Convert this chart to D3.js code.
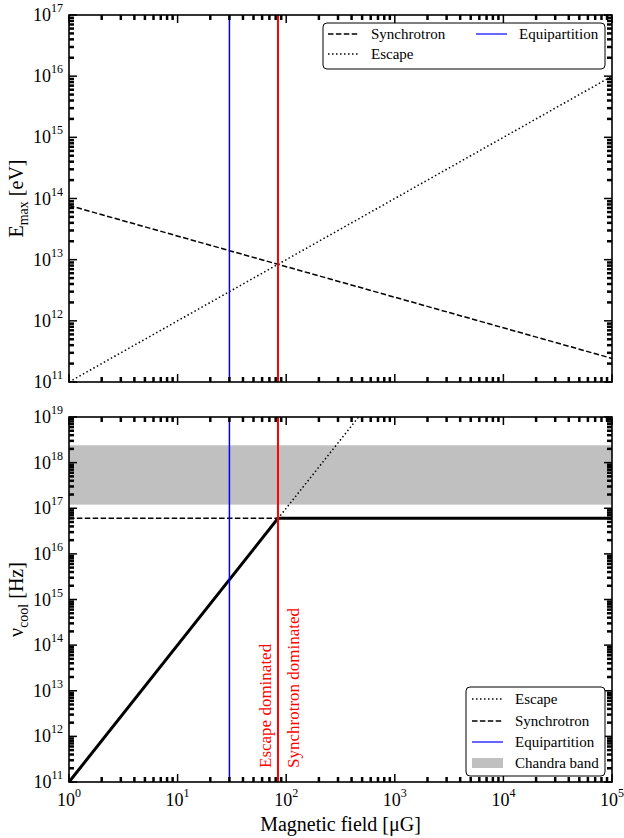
<!DOCTYPE html>
<html>
<head>
<meta charset="utf-8">
<script src="https://cdn.jsdelivr.net/npm/d3@7"></script>
<style>
  body { margin: 0; background: #fff; }
  svg text { font-family: "Liberation Serif", "Times New Roman", serif; }
</style>
</head>
<body>
<div id="chart"></div>
<script>
// ---- data ----
const xMajor = [1, 10, 100, 1e3, 1e4, 1e5];
const topYMajor = [1e11, 1e12, 1e13, 1e14, 1e15, 1e16, 1e17];
const botYMajor = [1e11, 1e12, 1e13, 1e14, 1e15, 1e16, 1e17, 1e18, 1e19];

const bEquip = 30;      // blue line, uG
const bCross = 84;      // red line, uG

// top panel: E_max [eV]
const topSyncB = [1, 1e5], topSyncE = [7.7e13, 2.43e11];
const topEscB = [1, 1e5], topEscE = [1e11, 1e16];

// bottom panel: nu_cool [Hz]
const botSyncB = [1, 1e5], botSyncNu = [6.0e16, 6.0e16];
const botEscB = [1, 464], botEscNu = [1e11, 1e19];
const totalB = [1, 84, 1e5], totalNu = [1e11, 6.0e16, 6.0e16];
const chandraBand = [1.2e17, 2.4e18];

const width = 624, height = 838;
const left = 69, right = 612;
const topPanel = {y0: 15, y1: 382}, botPanel = {y0: 417, y1: 782};

const svg = d3.select("#chart")
  .append("svg")
  .attr("width", width)
  .attr("height", height);

const x = d3.scaleLog([1, 1e5], [left, right]);
const yTop = d3.scaleLog([1e11, 1e17], [topPanel.y1, topPanel.y0]);
const yBot = d3.scaleLog([1e11, 1e19], [botPanel.y1, botPanel.y0]);

const isMajor = d => Math.abs(Math.log10(d) - Math.round(Math.log10(d))) < 1e-6;

const dashed = "5.5,2.4", dotted = "1.5,2.5";
const blue = "#0000ff", red = "#ff0000";

function pts(bs, vs) { return bs.map((b, i) => [b, vs[i]]); }

function addLine(g, y, data, opts) {
  const line = d3.line().x(d => x(d[0])).y(d => y(d[1]));
  g.append("path")
    .datum(data)
    .attr("d", line)
    .attr("fill", "none")
    .attr("stroke", opts.color || "#000")
    .attr("stroke-width", opts.width || 1.5)
    .attr("stroke-dasharray", opts.dash || null);
}

function addVLines(g, p) {
  g.append("line")
    .attr("x1", x(bEquip)).attr("x2", x(bEquip))
    .attr("y1", p.y0).attr("y2", p.y1)
    .attr("stroke", blue).attr("stroke-width", 1.5);
  g.append("line")
    .attr("x1", x(bCross)).attr("x2", x(bCross))
    .attr("y1", p.y0).attr("y2", p.y1)
    .attr("stroke", red).attr("stroke-width", 2);
}

// inward ticks on all four sides, placed with the scales
function drawFrame(y, p) {
  const g = svg.append("g").attr("class", "frame");
  const xMinor = x.ticks().filter(d => !isMajor(d));
  const yMinor = y.ticks().filter(d => !isMajor(d));
  const yMajor = y.ticks().filter(isMajor);

  const xt = [];
  xMinor.forEach(d => xt.push({v: d, len: 5, w: 2.5}));
  xMajor.forEach(d => xt.push({v: d, len: 8, w: 1.5}));
  const yt = [];
  yMinor.forEach(d => yt.push({v: d, len: 5, w: 2.5}));
  yMajor.forEach(d => yt.push({v: d, len: 8, w: 1.5}));

  // bottom and top edges
  [[p.y1, -1], [p.y0, 1]].forEach(([yy, dir]) => {
    g.append("g").selectAll("line")
      .data(xt)
      .join("line")
      .attr("x1", d => x(d.v)).attr("x2", d => x(d.v))
      .attr("y1", yy).attr("y2", d => yy + dir * d.len)
      .attr("stroke", "#000")
      .attr("stroke-width", d => d.w);
  });
  // left and right edges
  [[left, 1], [right, -1]].forEach(([xx, dir]) => {
    g.append("g").selectAll("line")
      .data(yt)
      .join("line")
      .attr("y1", d => y(d.v)).attr("y2", d => y(d.v))
      .attr("x1", xx).attr("x2", d => xx + dir * d.len)
      .attr("stroke", "#000")
      .attr("stroke-width", d => d.w);
  });

  g.append("rect")
    .attr("x", left).attr("y", p.y0)
    .attr("width", right - left).attr("height", p.y1 - p.y0)
    .attr("fill", "none")
    .attr("stroke", "#000")
    .attr("stroke-width", 1.6);
}

function yLabels(y, yMajor) {
  const lab = svg.append("g")
    .selectAll("text")
    .data(yMajor)
    .join("text")
    .attr("x", left - 6)
    .attr("y", d => y(d) + 6)
    .attr("text-anchor", "end")
    .attr("font-size", 18)
    .attr("fill", "#000");
  lab.append("tspan").text("10");
  lab.append("tspan").attr("font-size", 12).attr("dy", -9).text(d => Math.round(Math.log10(d)));
}

// ---- top panel ----
const gTop = svg.append("g");
addLine(gTop, yTop, pts(topSyncB, topSyncE), {dash: dashed});
addLine(gTop, yTop, pts(topEscB, topEscE), {dash: dotted});
addVLines(gTop, topPanel);
yLabels(yTop, topYMajor);

// ---- bottom panel ----
const gBot = svg.append("g");
gBot.append("rect")
  .attr("x", left).attr("width", right - left)
  .attr("y", yBot(chandraBand[1]))
  .attr("height", yBot(chandraBand[0]) - yBot(chandraBand[1]))
  .attr("fill", "#c0c0c0");
addLine(gBot, yBot, pts(botSyncB, botSyncNu), {dash: dashed});
addLine(gBot, yBot, pts(botEscB, botEscNu), {dash: dotted});
addLine(gBot, yBot, pts(totalB, totalNu), {width: 3});
addVLines(gBot, botPanel);
yLabels(yBot, botYMajor);

// x tick labels (bottom panel only)
const xl = svg.append("g")
  .selectAll("text")
  .data(xMajor)
  .join("text")
  .attr("x", d => x(d))
  .attr("y", 806)
  .attr("text-anchor", "middle")
  .attr("font-size", 18)
  .attr("fill", "#000");
xl.append("tspan").text("10");
xl.append("tspan").attr("font-size", 12).attr("dy", -9).text(d => Math.round(Math.log10(d)));

// axis titles
svg.append("text")
  .attr("x", (left + right) / 2)
  .attr("y", 831)
  .attr("text-anchor", "middle")
  .attr("font-size", 20)
  .text("Magnetic field [\u03bcG]");

const ey = svg.append("text")
  .attr("transform", `translate(23,${(topPanel.y0 + topPanel.y1) / 2}) rotate(-90)`)
  .attr("text-anchor", "middle")
  .attr("font-size", 20);
ey.append("tspan").text("E");
ey.append("tspan").attr("font-size", 14).attr("dy", 5).text("max");
ey.append("tspan").attr("dy", -5).text(" [eV]");

const ny = svg.append("text")
  .attr("transform", `translate(23,${(botPanel.y0 + botPanel.y1) / 2}) rotate(-90)`)
  .attr("text-anchor", "middle")
  .attr("font-size", 20);
ny.append("tspan").text("\u03bd");
ny.append("tspan").attr("font-size", 14).attr("dy", 5).text("cool");
ny.append("tspan").attr("dy", -5).text(" [Hz]");

// regime labels
svg.append("text")
  .attr("transform", "translate(271,768) rotate(-90)")
  .attr("font-size", 17)
  .attr("fill", red)
  .text("Escape dominated");
svg.append("text")
  .attr("transform", "translate(299,768) rotate(-90)")
  .attr("font-size", 17)
  .attr("fill", red)
  .text("Synchrotron dominated");

// frames and ticks on top of the data
drawFrame(yTop, topPanel);
drawFrame(yBot, botPanel);

// ---- legends ----
function legend(box, items) {
  const g = svg.append("g");
  g.append("rect")
    .attr("x", box.x).attr("y", box.y)
    .attr("width", box.w).attr("height", box.h)
    .attr("rx", 4)
    .attr("fill", "#fff")
    .attr("stroke", "#000")
    .attr("stroke-width", 1);
  const it = g.selectAll(".legend-item")
    .data(items)
    .join("g")
    .attr("class", "legend-item")
    .attr("transform", d => `translate(${d.x},${d.y})`);
  it.filter(d => d.type === "line")
    .append("line")
    .attr("x1", 0).attr("x2", 31)
    .attr("stroke", d => d.color)
    .attr("stroke-width", d => d.width)
    .attr("stroke-dasharray", d => d.dash);
  it.filter(d => d.type === "patch")
    .append("rect")
    .attr("x", 0).attr("y", -5)
    .attr("width", 31).attr("height", 10)
    .attr("fill", "#c0c0c0");
  it.append("text")
    .attr("x", 43).attr("y", 5)
    .attr("font-size", 15)
    .text(d => d.label);
}

legend({x: 323, y: 23, w: 282, h: 46}, [
  {label: "Synchrotron", type: "line", color: "#000", width: 1.5, dash: dashed, x: 328, y: 34},
  {label: "Escape", type: "line", color: "#000", width: 1.5, dash: dotted, x: 328, y: 54},
  {label: "Equipartition", type: "line", color: blue, width: 1.2, dash: null, x: 476, y: 34}
]);

legend({x: 466, y: 687, w: 139, h: 89}, [
  {label: "Escape", type: "line", color: "#000", width: 1.5, dash: dotted, x: 472, y: 699},
  {label: "Synchrotron", type: "line", color: "#000", width: 1.5, dash: dashed, x: 472, y: 721},
  {label: "Equipartition", type: "line", color: blue, width: 1.2, dash: null, x: 472, y: 742},
  {label: "Chandra band", type: "patch", x: 472, y: 763}
]);
</script>
</body>
</html>
